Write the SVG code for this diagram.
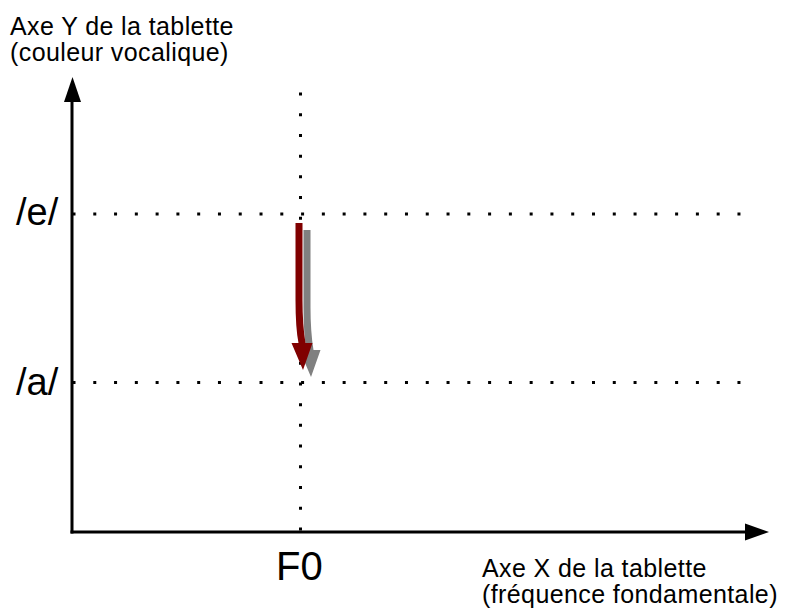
<svg xmlns="http://www.w3.org/2000/svg" width="785" height="614" viewBox="0 0 785 614">
<style>
text{font-family:"Liberation Sans",Arial,sans-serif;fill:#000}
.lbl{font-size:25px;letter-spacing:0.4px}
.big{font-size:38px}
.axis{stroke:#000;stroke-width:3;fill:none}
.dotH{stroke:#000;stroke-width:3;stroke-dasharray:3 17.78;fill:none}
.dotV{stroke:#000;stroke-width:3;stroke-dasharray:3 17.71;fill:none}
</style>
<rect width="785" height="614" fill="#fff"/>
<g id="guides">
<line class="dotH" x1="72.5" y1="214" x2="742" y2="214"/>
<line class="dotH" x1="72.5" y1="382.5" x2="742" y2="382.5"/>
<line class="dotV" x1="300.5" y1="92.5" x2="300.5" y2="531"/>
</g>
<g id="axes">
<line class="axis" x1="72" y1="100" x2="72" y2="533.5"/>
<polygon points="72.5,77 64,102 81,102" fill="#000"/>
<line class="axis" x1="70.5" y1="532" x2="747" y2="532"/>
<polygon points="769,532 745,523.5 745,540.5" fill="#000"/>
</g>
<g id="arrows">
<path id="shadow" transform="translate(8,7)" fill="#808080" d="M295.5,223 L295.5,300 Q295.5,328 298.5,343 L291.5,343 L303,370 L312.5,343 L305.5,343 Q302.5,325 302.5,300 L302.5,223 Z"/>
<path id="trajectory" fill="#800000" d="M295.5,223 L295.5,300 Q295.5,328 298.5,343 L291.5,343 L303,370 L312.5,343 L305.5,343 Q302.5,325 302.5,300 L302.5,223 Z"/>
</g>
<g id="labels">
<text class="lbl" x="10" y="35">Axe Y de la tablette</text>
<text class="lbl" x="10" y="61">(couleur vocalique)</text>
<text class="big" x="16" y="225">/e/</text>
<text class="big" x="16" y="395">/a/</text>
<text font-size="40" x="276" y="580">F0</text>
<text class="lbl" x="482" y="577">Axe X de la tablette</text>
<text class="lbl" x="482" y="603">(fréquence fondamentale)</text>
</g>
</svg>
